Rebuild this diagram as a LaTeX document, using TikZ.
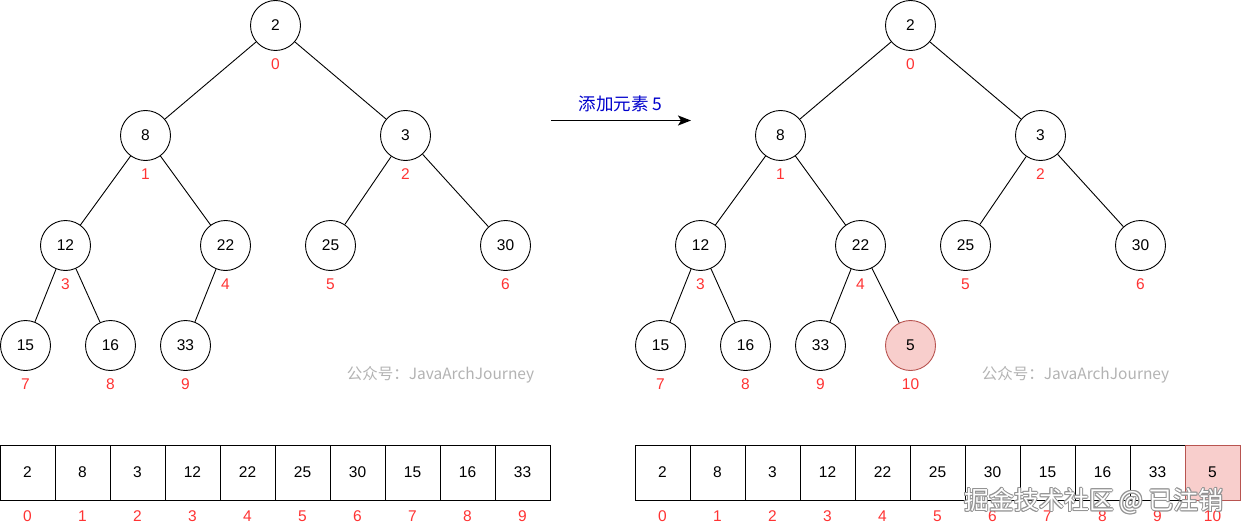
\documentclass[tikz,border=0pt]{standalone}
\usepackage{fontspec}
\setmainfont{Liberation Sans}
\newfontfamily\cjk{Noto Sans CJK SC}
\usetikzlibrary{arrows.meta}
\definecolor{idxred}{HTML}{FF3333}
\definecolor{pinkfill}{HTML}{F8CECC}
\definecolor{pinkline}{HTML}{B85450}
\definecolor{wmgray}{HTML}{B3B3B3}
\definecolor{lblblue}{HTML}{0000CC}
\tikzset{
  hnode/.style={circle,draw=black,line width=0.9pt,minimum size=50pt,inner sep=0pt,font=\fontsize{15.5}{18}\selectfont},
  newnode/.style={hnode,fill=pinkfill,draw=pinkline},
  idx/.style={text=idxred,inner sep=0pt,font=\fontsize{15.5}{18}\selectfont},
  cell/.style={rectangle,draw=black,line width=0.9pt,minimum width=55pt,minimum height=55pt,inner sep=0pt,font=\fontsize{15.5}{18}\selectfont},
  newcell/.style={cell,fill=pinkfill,draw=pinkline},
  edge/.style={line width=0.9pt,draw=black},
  wm/.style={text=wmgray,inner sep=0pt,font=\cjk\fontsize{15.5}{18}\selectfont},
  bigwm/.style={inner sep=0pt,font=\cjk\fontsize{25}{28}\selectfont},
}
\begin{document}
\begin{tikzpicture}[x=1pt,y=-1pt]
\useasboundingbox (0,0) rectangle (1242,532);
% ---------- left tree ----------
\node[hnode] (a0) at (275.5,25.5) {2};
\node[hnode] (a1) at (145.5,135.5) {8};
\node[hnode] (a2) at (405.5,135.5) {3};
\node[hnode] (a3) at (65.5,245.5) {12};
\node[hnode] (a4) at (225.5,245.5) {22};
\node[hnode] (a5) at (330.5,245.5) {25};
\node[hnode] (a6) at (505.5,245.5) {30};
\node[hnode] (a7) at (25.5,345.5) {15};
\node[hnode] (a8) at (110.5,345.5) {16};
\node[hnode] (a9) at (185.5,345.5) {33};
\foreach \i/\x/\y in {0/275.5/64,1/145.5/174,2/405.5/174,3/65.5/284,4/225.5/284,5/330.5/284,6/505.5/284,7/25.5/384,8/110.5/384,9/185.5/384}
  \node[idx] (ai\i) at (\x,\y) {\i};
\draw[edge] (a0) -- (a1);
\draw[edge] (a0) -- (a2);
\draw[edge] (a1) -- (a3);
\draw[edge] (a1) -- (a4);
\draw[edge] (a2) -- (a5);
\draw[edge] (a2) -- (a6);
\draw[edge] (a3) -- (a7);
\draw[edge] (a3) -- (a8);
\draw[edge] (a4) -- (a9);
\node[wm] (wmA) at (440.5,375) {公众号：JavaArchJourney};
% ---------- arrow ----------
\coordinate (arS) at (551,120.5);
\coordinate (arE) at (691,120.5);
\draw[line width=1.6pt,-{Stealth[length=13pt,width=10pt,inset=3pt]}] (arS) -- (arE);
\node[text=lblblue,inner sep=0pt,font=\cjk\fontsize{17.5}{20}\selectfont] (lbl) at (620.5,104) {添加元素 5};
% ---------- right tree ----------
\node[hnode] (b0) at (910.5,25.5) {2};
\node[hnode] (b1) at (780.5,135.5) {8};
\node[hnode] (b2) at (1040.5,135.5) {3};
\node[hnode] (b3) at (700.5,245.5) {12};
\node[hnode] (b4) at (860.5,245.5) {22};
\node[hnode] (b5) at (965.5,245.5) {25};
\node[hnode] (b6) at (1140.5,245.5) {30};
\node[hnode] (b7) at (660.5,345.5) {15};
\node[hnode] (b8) at (745.5,345.5) {16};
\node[hnode] (b9) at (820.5,345.5) {33};
\node[newnode] (b10) at (910.5,345.5) {5};
\foreach \i/\x/\y in {0/910.5/64,1/780.5/174,2/1040.5/174,3/700.5/284,4/860.5/284,5/965.5/284,6/1140.5/284,7/660.5/384,8/745.5/384,9/820.5/384,10/910.5/384}
  \node[idx] (bi\i) at (\x,\y) {\i};
\draw[edge] (b0) -- (b1);
\draw[edge] (b0) -- (b2);
\draw[edge] (b1) -- (b3);
\draw[edge] (b1) -- (b4);
\draw[edge] (b2) -- (b5);
\draw[edge] (b2) -- (b6);
\draw[edge] (b3) -- (b7);
\draw[edge] (b3) -- (b8);
\draw[edge] (b4) -- (b9);
\draw[edge] (b4) -- (b10);
\node[wm] (wmB) at (1075.5,375) {公众号：JavaArchJourney};
% ---------- left array ----------
\foreach \v [count=\k from 0] in {2,8,3,12,22,25,30,15,16,33} {
  \node[cell] (c\k) at (27.5+55*\k,472.5) {\v};
  \node[idx] (ci\k) at (27.5+55*\k,516) {\k};
}
% ---------- right array ----------
\foreach \v [count=\k from 0] in {2,8,3,12,22,25,30,15,16,33} {
  \node[cell] (d\k) at (662.5+55*\k,472.5) {\v};
  \node[idx] (di\k) at (662.5+55*\k,516) {\k};
}
\node[newcell] (d10) at (1212.5,472.5) {5};
\node[idx] (di10) at (1212.5,516) {10};
% ---------- bottom watermark ----------
\foreach \dx/\dy in {-1/0,1/0,0/-1,0/1,-0.8/-0.8,0.8/0.8,-0.8/0.8,0.8/-0.8}
  \node[bigwm,text=gray!85] at (1094+\dx,501+\dy) {掘金技术社区 @ 已注销};
\node[bigwm,text=white] (wmC) at (1094,501) {掘金技术社区 @ 已注销};
\end{tikzpicture}
\end{document}
